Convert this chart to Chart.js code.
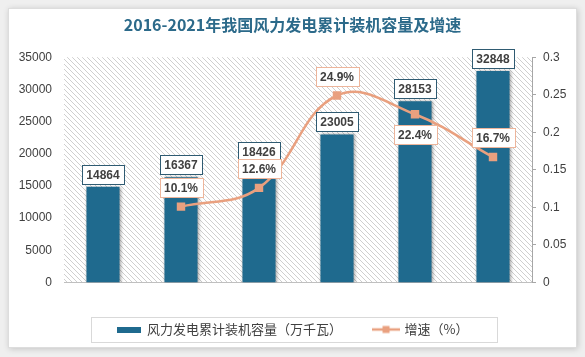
<!DOCTYPE html>
<html><head><meta charset="utf-8">
<script src="https://cdn.jsdelivr.net/npm/chart.js@4/dist/chart.umd.min.js"></script>
<style>html,body{margin:0;padding:0;background:#efefef;}#wrap{width:585px;height:357px;position:relative;}canvas{display:block;}</style>
</head><body><div id="wrap"><canvas id="c" width="585" height="357"></canvas></div>
<script>
// ---- data ----
const years = ['2016年', '2017年', '2018年', '2019年', '2020年', '2021年'];
const capacity = [14864, 16367, 18426, 23005, 28153, 32848];
const growth = [null, 0.101, 0.126, 0.249, 0.224, 0.167];
const growthText = [null, '10.1%', '12.6%', '24.9%', '22.4%', '16.7%'];
const leftTicks = [0, 5000, 10000, 15000, 20000, 25000, 30000, 35000];
const rightTicks = [0, 0.05, 0.1, 0.15, 0.2, 0.25, 0.3];
const titleText = '2016-2021年我国风力发电累计装机容量及增速';
const barName = '风力发电累计装机容量（万千瓦）';
const lineName = '增速（%）';

const BAR = '#1F6A8E';
const LINE = '#E9A07F';
const TXT = '#404040';
const CJK = '"Noto Sans CJK SC", sans-serif';
const LAT = '"Liberation Sans", "Noto Sans CJK SC", sans-serif';

// legend swatches
function barSwatch(){const c=document.createElement('canvas');c.width=24;c.height=6;const g=c.getContext('2d');g.fillStyle=BAR;g.fillRect(0,0,24,6);return c;}
function lineSwatch(){const c=document.createElement('canvas');c.width=28;c.height=10;const g=c.getContext('2d');g.strokeStyle=LINE;g.lineWidth=2.5;g.beginPath();g.moveTo(0,5);g.lineTo(28,5);g.stroke();g.fillStyle=LINE;g.fillRect(10.5,1.5,7,7);return c;}

function hatch(ctx){
  const c=document.createElement('canvas');c.width=5;c.height=5;const g=c.getContext('2d');
  g.fillStyle='#ffffff';g.fillRect(0,0,5,5);
  g.strokeStyle='#cfcfcf';g.lineWidth=1;
  g.beginPath();g.moveTo(-1,-1);g.lineTo(6,6);g.moveTo(-1,4);g.lineTo(1,6);g.moveTo(4,-1);g.lineTo(6,1);g.stroke();
  return ctx.createPattern(c,'repeat');
}

const framePlugin = {
  id:'frame',
  beforeDraw(chart){
    const ctx=chart.ctx, a=chart.chartArea;
    ctx.save();
    ctx.fillStyle='#efefef';ctx.fillRect(0,0,chart.width,chart.height);
    ctx.shadowColor='rgba(0,0,0,0.18)';ctx.shadowBlur=6;ctx.shadowOffsetX=1;ctx.shadowOffsetY=1;
    ctx.fillStyle='#ffffff';ctx.fillRect(8,8,569,340);
    ctx.shadowColor='transparent';
    ctx.strokeStyle='#dddddd';ctx.lineWidth=1;ctx.strokeRect(8.5,8.5,568,339);
    ctx.fillStyle=hatch(ctx);
    ctx.fillRect(a.left,a.top,a.right-a.left,a.bottom-a.top);
    ctx.restore();
  },
  beforeDatasetDraw(chart,args){
    if(args.index===0){const ctx=chart.ctx;ctx.save();ctx.shadowColor='rgba(0,0,0,0.35)';ctx.shadowBlur=3;ctx.shadowOffsetX=1;ctx.shadowOffsetY=0;}
  },
  afterDatasetDraw(chart,args){
    if(args.index===0){chart.ctx.restore();}
  },
  afterDatasetsDraw(chart){
    const ctx=chart.ctx;
    ctx.save();
    ctx.font='bold 12px "Liberation Sans", sans-serif';
    ctx.textAlign='center';ctx.textBaseline='middle';
    const box=(cx,top,text,border)=>{
      const w=Math.round(ctx.measureText(text).width)+9, h=19;
      const x=Math.round(cx-w/2)+0.5, y=Math.round(top)+0.5;
      ctx.fillStyle='#ffffff';ctx.fillRect(x,y,w,h);
      ctx.strokeStyle=border;ctx.lineWidth=1;ctx.strokeRect(x,y,w,h);
      ctx.fillStyle=TXT;ctx.fillText(text,cx,y+h/2+0.5);
    };
    const bm=chart.getDatasetMeta(0);
    bm.data.forEach((el,i)=>{box(el.x,el.y-22,String(capacity[i]),'#2F5B72');});
    const lm=chart.getDatasetMeta(1);
    const below=chart.options.plugins.frame.below;
    lm.data.forEach((el,i)=>{
      if(growth[i]==null)return;
      const top = below.includes(i) ? el.y+11 : el.y-29;
      box(el.x,top,growthText[i],'#EDB59B');
    });
    ctx.restore();
  },
  afterDraw(chart){
    const hb=chart.legend.legendHitBoxes; if(!hb||!hb.length)return;
    const ctx=chart.ctx;
    const l=hb[0].left-26, r=hb[hb.length-1].left+hb[hb.length-1].width+28;
    const cy=hb[0].top+hb[0].height/2;
    ctx.save();ctx.strokeStyle='#d9d9d9';ctx.lineWidth=1;
    ctx.strokeRect(Math.round(l)+0.5,Math.round(cy-12.5)+0.5,Math.round(r-l),25);
    ctx.restore();
  }
};

new Chart(document.getElementById('c'),{
  data:{
    labels:years,
    datasets:[
      {type:'bar',label:barName,data:capacity,backgroundColor:BAR,yAxisID:'y',order:1,barPercentage:0.53,categoryPercentage:0.8},
      {type:'line',label:lineName,data:growth,yAxisID:'y1',order:0,borderColor:LINE,backgroundColor:LINE,borderWidth:2.5,tension:0.4,
       pointStyle:'rect',pointRadius:4.2,pointBackgroundColor:LINE,pointBorderColor:LINE,spanGaps:true}
    ]
  },
  options:{
    responsive:false,animation:false,devicePixelRatio:1,
    layout:{padding:{left:0,right:0,top:0,bottom:11}},
    scales:{
      x:{grid:{display:false},border:{display:true,color:'#bfbfbf',width:1},
         ticks:{color:TXT,font:{family:LAT,size:12},padding:10},
         afterFit(s){s.height=8.5;}},
      y:{position:'left',min:0,max:35000,
         afterBuildTicks(s){s.ticks=leftTicks.map(v=>({value:v}));},
         grid:{display:false,drawTicks:false},border:{display:false},
         ticks:{color:TXT,font:{family:LAT,size:12},padding:12,callback:v=>String(v)},
         afterFit(s){s.width=64;}},
      y1:{position:'right',min:0,max:0.3,
         afterBuildTicks(s){s.ticks=rightTicks.map(v=>({value:v}));},
         grid:{display:true,drawOnChartArea:false,drawTicks:true,tickLength:4,color:'#a6a6a6'},
         border:{display:true,color:'#a6a6a6',width:1},
         ticks:{color:TXT,font:{family:LAT,size:12},padding:7,callback:v=>String(+v.toFixed(2))},
         afterFit(s){s.width=53;}}
    },
    plugins:{
      frame:{below:[4]},
      tooltip:{enabled:false},
      title:{display:true,text:titleText,color:'#2C6A8A',font:{family:CJK,size:16,weight:'bold'},padding:{top:15,bottom:23}},
      legend:{position:'bottom',
        labels:{usePointStyle:true,pointStyleWidth:24,padding:32,color:TXT,font:{family:CJK,size:13},
          generateLabels(chart){
            return [
              {text:barName,pointStyle:barSwatch(),fontColor:TXT,datasetIndex:0,hidden:false,lineWidth:0,strokeStyle:'transparent',fillStyle:BAR},
              {text:lineName,pointStyle:lineSwatch(),fontColor:TXT,datasetIndex:1,hidden:false,lineWidth:0,strokeStyle:'transparent',fillStyle:LINE}
            ];
          }}}
    }
  },
  plugins:[framePlugin]
});
</script></body></html>
